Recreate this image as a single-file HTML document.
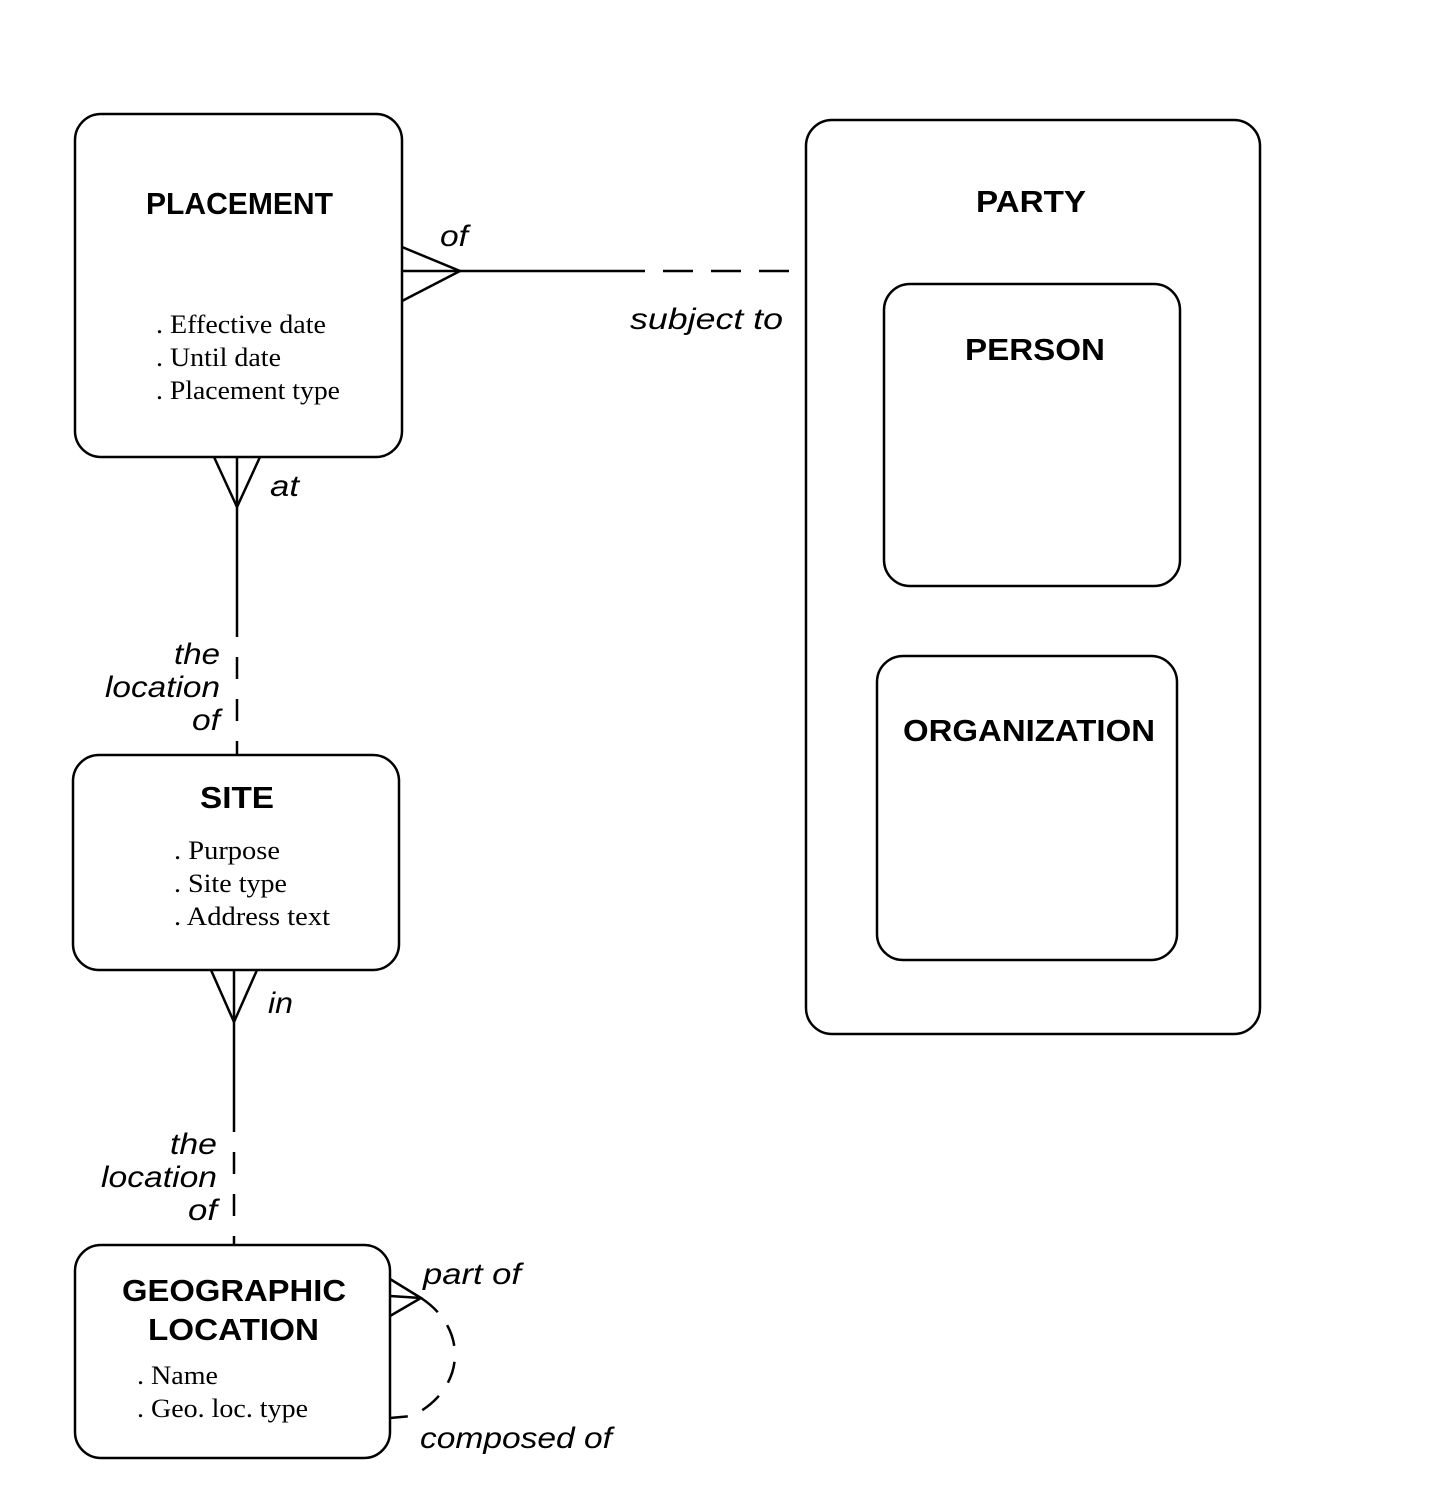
<!DOCTYPE html>
<html><head><meta charset="utf-8"><style>
html,body{margin:0;padding:0;background:#fff;}
svg{display:block;}
.t{font-family:"Liberation Sans",Arial,sans-serif;font-weight:bold;font-size:31px;fill:#000;}
.a{font-family:"Liberation Serif",serif;font-size:26px;fill:#000;}
.l{font-family:"Liberation Sans",Arial,sans-serif;font-style:italic;font-size:30px;fill:#000;}
</style></head><body>
<svg width="1434" height="1492" viewBox="0 0 1434 1492" xmlns="http://www.w3.org/2000/svg">
<g fill="none" stroke="#000" stroke-width="2.5">
<rect x="75" y="114" width="327" height="343" rx="26"/>
<rect x="806" y="120" width="454" height="914" rx="26"/>
<rect x="884" y="284" width="296" height="302" rx="26"/>
<rect x="877" y="656" width="300" height="304" rx="26"/>
<rect x="73" y="755" width="326" height="215" rx="26"/>
<rect x="75" y="1245" width="315" height="213" rx="26"/>
<line x1="402" y1="271" x2="615" y2="271"/>
<line x1="615" y1="271" x2="806" y2="271" stroke-dasharray="30,18"/>
<polyline points="402,247 460,271 402,301"/>
<polyline points="214,457 237,507 260,457"/>
<line x1="237" y1="457" x2="237" y2="615"/>
<line x1="237" y1="615" x2="237" y2="755" stroke-dasharray="22,20"/>
<polyline points="211,970 234,1022 257,970"/>
<line x1="234" y1="970" x2="234" y2="1110"/>
<line x1="234" y1="1110" x2="234" y2="1245" stroke-dasharray="22,20"/>
<polyline points="390,1279 421,1298 390,1316"/>
<line x1="390" y1="1296" x2="421" y2="1298"/>
<path d="M421,1298 C470,1330 465,1390 412,1416 L390,1418" stroke-dasharray="22,16"/>
</g>
<g lengthAdjust="spacingAndGlyphs">
<text class="t" x="146" y="214" textLength="187" lengthAdjust="spacingAndGlyphs">PLACEMENT</text>
<text class="a" x="156" y="333" textLength="170" lengthAdjust="spacingAndGlyphs">. Effective date</text>
<text class="a" x="156" y="366" textLength="125" lengthAdjust="spacingAndGlyphs">. Until date</text>
<text class="a" x="156" y="399" textLength="184" lengthAdjust="spacingAndGlyphs">. Placement type</text>
<text class="t" x="976" y="212" textLength="110" lengthAdjust="spacingAndGlyphs">PARTY</text>
<text class="t" x="965" y="360" textLength="140" lengthAdjust="spacingAndGlyphs">PERSON</text>
<text class="t" x="903" y="741" textLength="252" lengthAdjust="spacingAndGlyphs">ORGANIZATION</text>
<text class="t" x="200" y="808" textLength="74" lengthAdjust="spacingAndGlyphs">SITE</text>
<text class="a" x="174" y="859" textLength="106" lengthAdjust="spacingAndGlyphs">. Purpose</text>
<text class="a" x="174" y="892" textLength="113" lengthAdjust="spacingAndGlyphs">. Site type</text>
<text class="a" x="174" y="925" textLength="156" lengthAdjust="spacingAndGlyphs">. Address text</text>
<text class="t" x="122" y="1301" textLength="224" lengthAdjust="spacingAndGlyphs">GEOGRAPHIC</text>
<text class="t" x="148" y="1340" textLength="171" lengthAdjust="spacingAndGlyphs">LOCATION</text>
<text class="a" x="137" y="1384" textLength="81" lengthAdjust="spacingAndGlyphs">. Name</text>
<text class="a" x="137" y="1417" textLength="171" lengthAdjust="spacingAndGlyphs">. Geo. loc. type</text>
<text class="l" x="440" y="246" textLength="28" lengthAdjust="spacingAndGlyphs">of</text>
<text class="l" x="630" y="329" textLength="153" lengthAdjust="spacingAndGlyphs">subject to</text>
<text class="l" x="270" y="496" textLength="29" lengthAdjust="spacingAndGlyphs">at</text>
<text class="l" x="174" y="664" textLength="46" lengthAdjust="spacingAndGlyphs">the</text>
<text class="l" x="105" y="697" textLength="115" lengthAdjust="spacingAndGlyphs">location</text>
<text class="l" x="192" y="730" textLength="28" lengthAdjust="spacingAndGlyphs">of</text>
<text class="l" x="268" y="1013" textLength="25" lengthAdjust="spacingAndGlyphs">in</text>
<text class="l" x="170" y="1154" textLength="47" lengthAdjust="spacingAndGlyphs">the</text>
<text class="l" x="101" y="1187" textLength="116" lengthAdjust="spacingAndGlyphs">location</text>
<text class="l" x="188" y="1220" textLength="29" lengthAdjust="spacingAndGlyphs">of</text>
<text class="l" x="423" y="1284" textLength="98" lengthAdjust="spacingAndGlyphs">part of</text>
<text class="l" x="420" y="1448" textLength="192" lengthAdjust="spacingAndGlyphs">composed of</text>
</g>
</svg>
</body></html>
